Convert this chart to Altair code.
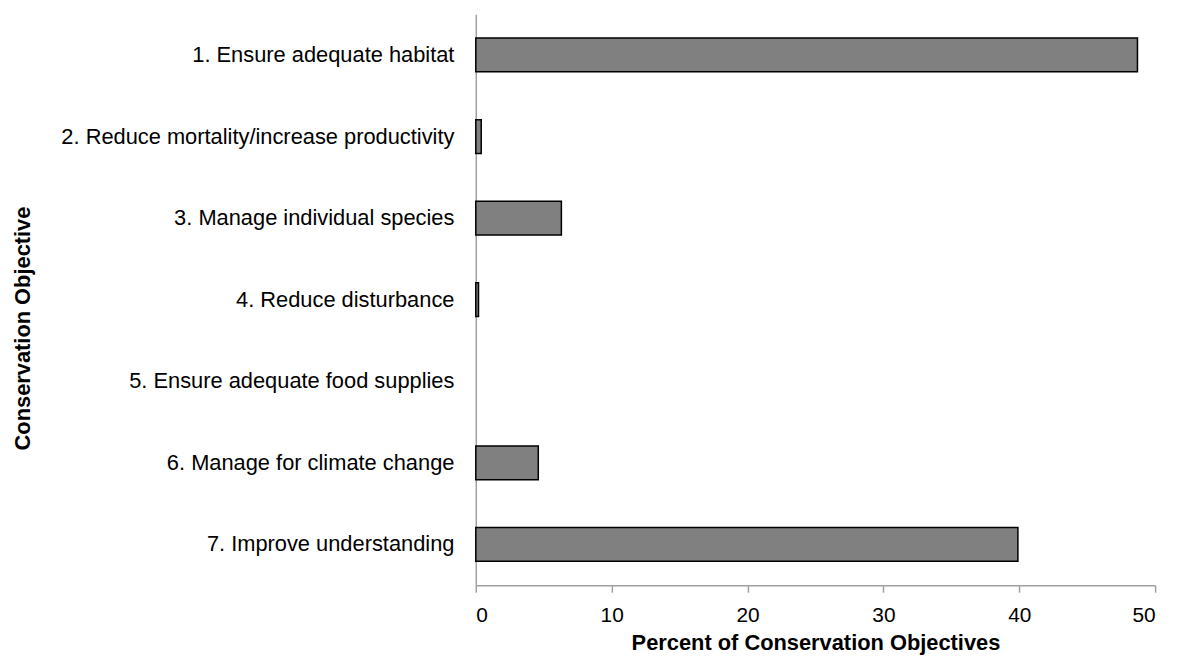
import altair as alt
import pandas as pd

categories = [
    "1. Ensure adequate habitat",
    "2. Reduce mortality/increase productivity",
    "3. Manage individual species",
    "4. Reduce disturbance",
    "5. Ensure adequate food supplies",
    "6. Manage for climate change",
    "7. Improve understanding",
]
percents = [48.7, 0.4, 6.3, 0.2, 0.0, 4.6, 39.9]
x_ticks = [0, 10, 20, 30, 40, 50]

df = pd.DataFrame({"objective": categories, "percent": percents})

FONT = "Liberation Sans"

chart = alt.Chart(df).mark_bar(size=34, color="#808080", stroke="#000000").encode(
    y=alt.Y(
        "objective:N",
        sort=categories,
        scale=alt.Scale(paddingInner=0, paddingOuter=0),
        axis=alt.Axis(
            title="Conservation  Objective",
            ticks=False,
            labelPadding=22,
            labelFont=FONT,
            labelFontSize=22,
            labelColor="#000000",
            labelLimit=600,
            domainColor="#a0a0a0",
            domainWidth=1.5,
            titleFont=FONT,
            titleFontSize=22,
            titleFontWeight="bold",
            titleColor="#000000",
            titleX=-456,
            titleY=316,
            titleAngle=-90,
            titleBaseline="middle",
            titleAlign="center",
        ),
    ),
    x=alt.X(
        "percent:Q",
        scale=alt.Scale(domain=[0, 50], nice=False),
        axis=alt.Axis(
            title="Percent of Conservation  Objectives",
            values=x_ticks,
            grid=False,
            tickSize=7,
            tickColor="#a0a0a0",
            tickWidth=1.5,
            domainColor="#a0a0a0",
            domainWidth=1.5,
            labelPadding=12,
            labelFont=FONT,
            labelFontSize=21,
            labelColor="#000000",
            titleFont=FONT,
            titleFontSize=22,
            titleFontWeight="bold",
            titleColor="#000000",
            titleX=342,
            titleY=58,
            titleBaseline="middle",
            titleAlign="center",
        ),
    ),
    strokeWidth=alt.condition(alt.datum.percent > 0, alt.value(1.5), alt.value(0)),
).properties(
    width=684,
    height=575,
    autosize=alt.AutoSizeParams(type="none"),
    padding={"left": 471, "top": 4, "right": 18, "bottom": 68},
).configure_view(stroke=None)

chart.save("out.html", embed_options={"renderer": "svg", "actions": False})
